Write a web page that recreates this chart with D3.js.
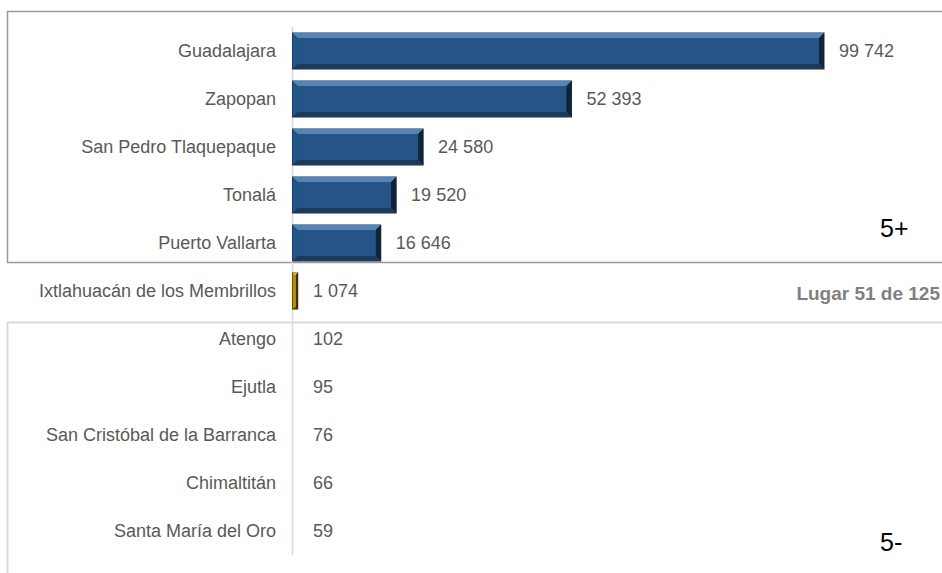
<!DOCTYPE html>
<html>
<head>
<meta charset="utf-8">
<script src="https://cdn.jsdelivr.net/npm/d3@7"></script>
<style>
  body { margin: 0; background: #fff; }
  text { font-family: "Liberation Sans", Arial, sans-serif; }
</style>
</head>
<body>
<svg id="chart" width="942" height="573"></svg>
<script>
// data
const municipios = ["Guadalajara", "Zapopan", "San Pedro Tlaquepaque", "Tonalá", "Puerto Vallarta",
  "Ixtlahuacán de los Membrillos",
  "Atengo", "Ejutla", "San Cristóbal de la Barranca", "Chimaltitán", "Santa María del Oro"];
const valores = [99742, 52393, 24580, 19520, 16646, 1074, 102, 95, 76, 66, 59];
const grupos = ["top", "top", "top", "top", "top", "sel", "low", "low", "low", "low", "low"];

const svg = d3.select("#chart");
const fmt = v => d3.format(",")(v).replace(/,/g, " ");

const y = d3.scaleBand().domain(municipios).range([27, 555]).paddingInner(0.25).paddingOuter(0.125);
const x = d3.scaleLinear().domain([0, 99742]).range([292, 824]);

// boxes
svg.append("path").attr("d", "M942,11.5 H7.5 V262.5 H942")
  .attr("fill", "none").attr("stroke", "#999").attr("stroke-width", 1.5);
svg.append("path").attr("d", "M942,322.5 H7.5 V573")
  .attr("fill", "none").attr("stroke", "#d9d9d9").attr("stroke-width", 2);

// axis line
svg.append("line").attr("x1", 292.5).attr("x2", 292.5).attr("y1", 27).attr("y2", 555)
  .attr("stroke", "#d9d9d9").attr("stroke-width", 1.5);

const palette = {
  top: { base: "#255486", hi: "#5684b4", lo: "#1a3a5d", side: "#0f243b", edge: "#15304d" },
  sel: { base: "#b88d0a", hi: "#e0b840", lo: "#5a4000", side: "#3a2a00", edge: "#3a2a00" },
  low: { base: "#255486", hi: "#5684b4", lo: "#1a3a5d", side: "#0f243b", edge: "#15304d" }
};

const rows = svg.append("g").selectAll("g").data(municipios).join("g");

rows.each(function (d, i) {
  const g = d3.select(this);
  const c = palette[grupos[i]];
  const x0 = x(0) + 0.5, x1 = x(valores[i]);
  const y0 = y(d), y1 = y(d) + y.bandwidth();
  const w = x1 - x0;
  if (w < 1) return;
  const b = Math.min(5, w / 3);
  g.append("rect").attr("x", x0).attr("y", y0).attr("width", w).attr("height", y1 - y0)
    .attr("fill", c.base).attr("stroke", c.edge).attr("stroke-width", 1);
  g.append("path").attr("d", `M${x0},${y0} L${x1},${y0} L${x1 - b},${y0 + b} L${x0 + b},${y0 + b}Z`)
    .attr("fill", c.hi);
  g.append("path").attr("d", `M${x1},${y0} L${x1},${y1} L${x1 - b},${y1 - b} L${x1 - b},${y0 + b}Z`)
    .attr("fill", c.side);
  g.append("path").attr("d", `M${x0},${y1} L${x1},${y1} L${x1 - b},${y1 - b} L${x0 + b},${y1 - b}Z`)
    .attr("fill", c.lo);
  g.append("path").attr("d", `M${x0},${y0} L${x0 + b},${y0 + b} L${x0 + b},${y1 - b} L${x0},${y1}Z`)
    .attr("fill", c.base).attr("opacity", 0.9);
});

// category labels
rows.append("text")
  .attr("x", 276).attr("y", d => y(d) + y.bandwidth() / 2).attr("dy", "0.35em")
  .attr("text-anchor", "end").attr("font-size", 18).attr("fill", "#595959")
  .text(d => d);

// value labels
rows.append("text")
  .attr("x", (d, i) => Math.max(x(valores[i]), x(0) + 6) + 15)
  .attr("y", d => y(d) + y.bandwidth() / 2).attr("dy", "0.35em")
  .attr("font-size", 18).attr("fill", "#595959")
  .text((d, i) => fmt(valores[i]));

// annotations
svg.append("text").attr("x", 880).attr("y", 237).attr("font-size", 25).attr("fill", "#000").text("5+");
svg.append("text").attr("x", 880).attr("y", 551).attr("font-size", 25).attr("fill", "#000").text("5-");
svg.append("text").attr("x", 940).attr("y", 300).attr("text-anchor", "end")
  .attr("font-size", 19).attr("font-weight", "bold").attr("fill", "#7f7f7f").text("Lugar 51 de 125");
</script>
</body>
</html>
